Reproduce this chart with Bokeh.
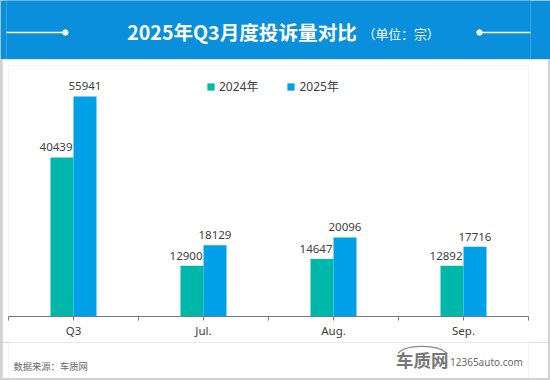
from bokeh.plotting import figure
from bokeh.layouts import column
from bokeh.models import (Range1d, ColumnDataSource, FixedTicker, Legend, LegendItem, LabelSet)
from bokeh.core.properties import value
from bokeh.embed import file_html
from bokeh.resources import INLINE

# ---------------- data ----------------
categories = ["Q3", "Jul.", "Aug.", "Sep."]
series_names = ["2024年", "2025年"]
values_2024 = [40439, 12900, 14647, 12892]
values_2025 = [55941, 18129, 20096, 17716]
title_text = "2025年Q3月度投诉量对比"
unit_text = "（单位：宗）"
source_text = "数据来源：车质网"
logo_cn = "车质网"
logo_en = "12365auto.com"

# ---------------- style ----------------
TEAL = "#00b8a9"
BLUE = "#00a0e9"
HEADER = "#0a8fdd"
TXT = "#404040"
AXIS = "#7a7a7a"
BORDER = "#d2d2d2"
FONT = "'Noto Sans', 'Noto Sans CJK SC'"
W = 550
HH = 59
CH = 283
FH = 36
INSET = 8  # the frame of an axis-less figure sits this far inside its canvas

# ---------------- header ----------------
h = figure(width=W, height=HH, x_range=Range1d(INSET, W - INSET), y_range=Range1d(HH, 0),
           toolbar_location=None, output_backend="svg", title=None, min_border=0,
           x_axis_location=None, y_axis_location=None,
           background_fill_color=HEADER, border_fill_color=HEADER,
           outline_line_color=None)
h.grid.visible = False
h.segment(x0=[0, 490], y0=[32, 32], x1=[68, 550], y1=[32, 32],
          line_color="white", line_width=1.5)
h.scatter(x=[68, 490], y=[32, 32], size=5.5, color="white")
h.text(x=[131], y=[31], text=[title_text], text_font=value("Noto Sans CJK SC"),
       text_font_style="bold", text_font_size="19.6px", text_color="white",
       text_baseline="middle", text_align="left")
h.text(x=[371], y=[33], text=[unit_text], text_font=value("Noto Sans CJK SC"),
       text_font_size="12.8px", text_color="white",
       text_baseline="middle", text_align="left")

# ---------------- main chart ----------------
n = len(categories)
centers = [i + 0.5 for i in range(n)]
off = 0.0885
bw = 0.177
src = ColumnDataSource(dict(
    x24=[c - off for c in centers], x25=[c + off for c in centers],
    xc=centers, v24=values_2024, v25=values_2025,
    t24=[str(v) for v in values_2024], t25=[str(v) for v in values_2025]))

p = figure(width=W - 4, height=CH, x_range=Range1d(0, n), y_range=Range1d(0, 63800),
           toolbar_location=None, output_backend="svg",
           min_border_left=6, min_border_right=20, min_border_top=6, min_border_bottom=26,
           y_axis_location=None, outline_line_color=None,
           background_fill_color="white", border_fill_color="white")
p.margin = (0, 2, 0, 2)
p.grid.visible = False

r24 = p.vbar(x="x24", top="v24", width=bw, source=src, fill_color=TEAL, line_color=None)
r25 = p.vbar(x="x25", top="v25", width=bw, source=src, fill_color=BLUE, line_color=None)

p.add_layout(LabelSet(x="xc", y="v24", text="t24", source=src, text_align="right",
                      text_baseline="alphabetic", x_offset=-1, y_offset=6,
                      text_font=value(FONT), text_font_size=value("11.5px"),
                      text_color=TXT))
p.add_layout(LabelSet(x="x25", y="v25", text="t25", source=src, text_align="center",
                      text_baseline="alphabetic", y_offset=6,
                      text_font=value(FONT), text_font_size=value("11.5px"),
                      text_color=TXT))

ax = p.xaxis[0]
ax.ticker = FixedTicker(ticks=centers, minor_ticks=list(range(n + 1)))
ax.major_label_overrides = {c: lab for c, lab in zip(centers, categories)}
ax.axis_line_color = AXIS
ax.major_tick_line_color = AXIS
ax.minor_tick_line_color = AXIS
ax.major_tick_out = 4
ax.major_tick_in = 0
ax.minor_tick_out = 4
ax.minor_tick_in = 0
ax.major_label_text_font = FONT
ax.major_label_text_font_size = "11.5px"
ax.major_label_text_color = TXT
ax.major_label_standoff = 2

legend = Legend(items=[LegendItem(label=series_names[0], renderers=[r24]),
                       LegendItem(label=series_names[1], renderers=[r25])],
                location=(198, 221), orientation="horizontal",
                glyph_width=9, glyph_height=9, label_standoff=4, spacing=28,
                padding=0, margin=0, border_line_color=None, background_fill_alpha=0,
                label_text_font=FONT, label_text_font_size="12px", label_text_color=TXT)
p.add_layout(legend)

# ---------------- footer ----------------
f = figure(width=W - 4, height=FH, x_range=Range1d(2 + INSET, W - 2 - INSET),
           y_range=Range1d(378, 342),
           toolbar_location=None, output_backend="svg", title=None, min_border=0,
           x_axis_location=None, y_axis_location=None, outline_line_color=None,
           background_fill_color="white", border_fill_color="white")
f.margin = (0, 2, 2, 2)
f.grid.visible = False
f.text(x=[15], y=[365.5], text=[source_text], text_font=value("Noto Sans CJK SC"),
       text_font_size="9.3px", text_color="#666666", text_baseline="middle", text_align="left")
f.bezier(x0=[407], y0=[353], x1=[457], y1=[353], cx0=[414], cy0=[344], cx1=[447], cy1=[343],
         line_color="#8a8a8a", line_width=1.3)
f.text(x=[405], y=[359], text=[logo_cn], text_font=value("Noto Sans CJK SC"),
       text_font_style="bold", text_font_size="17.5px", text_color="#777777",
       text_baseline="middle", text_align="left")
f.text(x=[460], y=[361.5], text=[logo_en], text_font=value("Noto Sans"),
       text_font_size="10px", text_color="#6a6a6a", text_baseline="middle", text_align="left")

layout = column(h, p, f, spacing=0, styles={"background-color": BORDER})
open("out.html", "w").write(file_html(layout, INLINE))
